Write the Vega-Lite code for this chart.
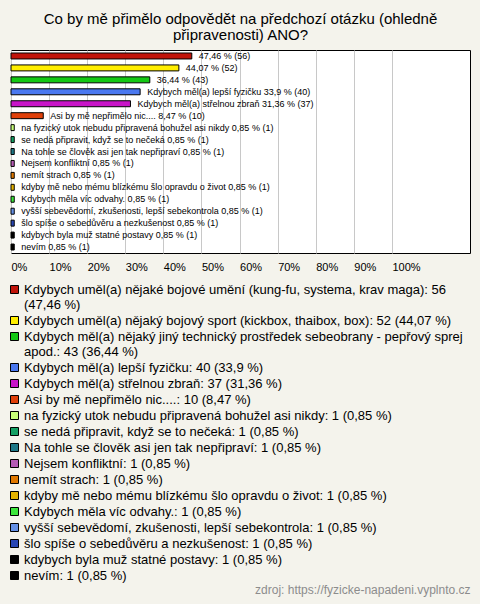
{
  "$schema": "https://vega.github.io/schema/vega-lite/v6.json",
  "width": 459,
  "height": 203,
  "autosize": {"type": "none"},
  "padding": {"left": 11, "top": 50, "right": 10, "bottom": 351},
  "background": "#f4f3ec",
  "title": {
    "text": ["Co by mě přimělo odpovědět na předchozí otázku (ohledně", "připravenosti) ANO?"],
    "font": "Liberation Sans",
    "fontSize": 15,
    "fontWeight": "normal",
    "color": "#000000",
    "anchor": "middle",
    "frame": "group",
    "lineHeight": 16,
    "offset": 7
  },
  "view": {"fill": "white", "stroke": "black", "strokeWidth": 1},
  "data": {
    "values": [
      {"answer": "Kdybych uměl(a) nějaké bojové umění (kung-fu, systema, krav maga)", "count": 56, "pct": 47.46, "label": "47,46 % (56)", "legend": "Kdybych uměl(a) nějaké bojové umění (kung-fu, systema, krav maga): 56|(47,46 %)"},
      {"answer": "Kdybych uměl(a) nějaký bojový sport (kickbox, thaibox, box)", "count": 52, "pct": 44.07, "label": "44,07 % (52)", "legend": "Kdybych uměl(a) nějaký bojový sport (kickbox, thaibox, box): 52 (44,07 %)"},
      {"answer": "Kdybych měl(a) nějaký jiný technický prostředek sebeobrany - pepřový sprej apod.", "count": 43, "pct": 36.44, "label": "36,44 % (43)", "legend": "Kdybych měl(a) nějaký jiný technický prostředek sebeobrany - pepřový sprej|apod.: 43 (36,44 %)"},
      {"answer": "Kdybych měl(a) lepší fyzičku", "count": 40, "pct": 33.9, "label": "Kdybych měl(a) lepší fyzičku 33,9 % (40)", "legend": "Kdybych měl(a) lepší fyzičku: 40 (33,9 %)"},
      {"answer": "Kdybych měl(a) střelnou zbraň", "count": 37, "pct": 31.36, "label": "Kdybych měl(a) střelnou zbraň 31,36 % (37)", "legend": "Kdybych měl(a) střelnou zbraň: 37 (31,36 %)"},
      {"answer": "Asi by mě nepřimělo nic....", "count": 10, "pct": 8.47, "label": "Asi by mě nepřimělo nic.... 8,47 % (10)", "legend": "Asi by mě nepřimělo nic....: 10 (8,47 %)"},
      {"answer": "na fyzický utok nebudu připravená bohužel asi nikdy", "count": 1, "pct": 0.85, "label": "na fyzický utok nebudu připravená bohužel asi nikdy 0,85 % (1)", "legend": "na fyzický utok nebudu připravená bohužel asi nikdy: 1 (0,85 %)"},
      {"answer": "se nedá připravit, když se to nečeká", "count": 1, "pct": 0.85, "label": "se nedá připravit, když se to nečeká 0,85 % (1)", "legend": "se nedá připravit, když se to nečeká: 1 (0,85 %)"},
      {"answer": "Na tohle se člověk asi jen tak nepřipraví", "count": 1, "pct": 0.85, "label": "Na tohle se člověk asi jen tak nepřipraví 0,85 % (1)", "legend": "Na tohle se člověk asi jen tak nepřipraví: 1 (0,85 %)"},
      {"answer": "Nejsem konfliktní", "count": 1, "pct": 0.85, "label": "Nejsem konfliktní 0,85 % (1)", "legend": "Nejsem konfliktní: 1 (0,85 %)"},
      {"answer": "nemít strach", "count": 1, "pct": 0.85, "label": "nemít strach 0,85 % (1)", "legend": "nemít strach: 1 (0,85 %)"},
      {"answer": "kdyby mě nebo mému blízkému šlo opravdu o život", "count": 1, "pct": 0.85, "label": "kdyby mě nebo mému blízkému šlo opravdu o život 0,85 % (1)", "legend": "kdyby mě nebo mému blízkému šlo opravdu o život: 1 (0,85 %)"},
      {"answer": "Kdybych měla víc odvahy.", "count": 1, "pct": 0.85, "label": "Kdybych měla víc odvahy. 0,85 % (1)", "legend": "Kdybych měla víc odvahy.: 1 (0,85 %)"},
      {"answer": "vyšší sebevědomí, zkušenosti, lepší sebekontrola", "count": 1, "pct": 0.85, "label": "vyšší sebevědomí, zkušenosti, lepší sebekontrola 0,85 % (1)", "legend": "vyšší sebevědomí, zkušenosti, lepší sebekontrola: 1 (0,85 %)"},
      {"answer": "šlo spíše o sebedůvěru a nezkušenost", "count": 1, "pct": 0.85, "label": "šlo spíše o sebedůvěru a nezkušenost 0,85 % (1)", "legend": "šlo spíše o sebedůvěru a nezkušenost: 1 (0,85 %)"},
      {"answer": "kdybych byla muž statné postavy", "count": 1, "pct": 0.85, "label": "kdybych byla muž statné postavy 0,85 % (1)", "legend": "kdybych byla muž statné postavy: 1 (0,85 %)"},
      {"answer": "nevím", "count": 1, "pct": 0.85, "label": "nevím 0,85 % (1)", "legend": "nevím: 1 (0,85 %)"}
    ]
  },
  "encoding": {
    "y": {"field": "answer", "type": "nominal", "sort": null, "axis": null, "scale": {"paddingInner": 0.5, "paddingOuter": 0.25}}
  },
  "layer": [
    {
      "mark": {"type": "bar", "stroke": "black", "strokeWidth": 1},
      "encoding": {
        "x": {
          "field": "pct", "type": "quantitative",
          "scale": {"domain": [0, 120.5], "nice": false},
          "axis": {
            "values": [0, 10, 20, 30, 40, 50, 60, 70, 80, 90, 100],
            "labelExpr": "datum.value + '%'",
            "ticks": false, "domain": false, "grid": true, "gridColor": "#c8c8c8", "gridWidth": 1,
            "labelAlign": "left", "labelPadding": 8, "labelFlush": false,
            "labelFont": "Liberation Sans", "labelFontSize": 11, "labelColor": "#000000",
            "title": "zdroj: https://fyzicke-napadeni.vyplnto.cz",
            "titleAnchor": "end", "titleY": 331,
            "titleFont": "Liberation Sans", "titleFontSize": 12, "titleFontWeight": "normal", "titleColor": "#8c8c8c"
          }
        },
        "color": {
          "field": "legend", "type": "nominal", "sort": null,
          "scale": {"range": ["#c0140a", "#ffee00", "#14c814", "#4a78f0", "#c814c8", "#e0400a", "#c8ff78", "#14a064", "#1e7888", "#b45ab4", "#e07800", "#e6b400", "#3ce63c", "#6490e6", "#2846b4", "#000000", "#000000"]},
          "legend": {
            "orient": "none", "legendX": -3, "legendY": 233, "direction": "vertical", "title": null,
            "symbolType": "square", "symbolSize": 64, "symbolStrokeColor": "black", "symbolStrokeWidth": 1, "symbolOpacity": 1,
            "labelFont": "Liberation Sans", "labelFontSize": 13, "labelColor": "#000000", "labelLimit": 1000, "labelOffset": 3,
            "rowPadding": 2, "padding": 0,
            "labelExpr": "split(datum.label, '|')"
          }
        }
      }
    },
    {
      "mark": {"type": "text", "align": "left", "baseline": "middle", "dx": 7, "font": "Liberation Sans", "fontSize": 9, "color": "#000000"},
      "encoding": {
        "x": {"field": "pct", "type": "quantitative"},
        "text": {"field": "label"}
      }
    }
  ]
}
